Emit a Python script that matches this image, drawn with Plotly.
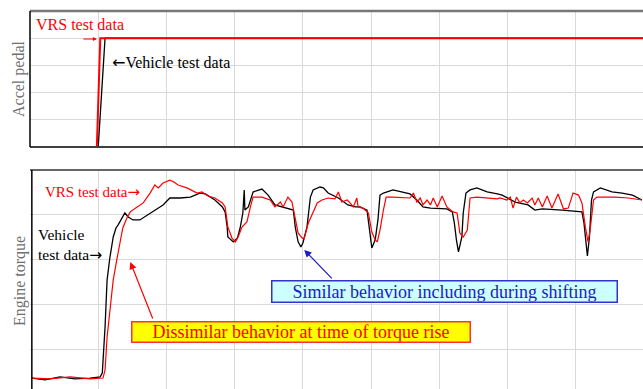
import plotly.graph_objects as go

# ---- data (time in s, accel pedal %, engine torque %) ----
pedal_vrs_t = [0.0, 0.98, 1.03, 9.0]
pedal_vrs_v = [0, 0, 80, 80]
pedal_veh_t = [0.0, 1.0, 1.1, 9.0]
pedal_veh_v = [0, 0, 80, 80]

veh_t = [0.03, 0.22, 0.44, 0.66, 0.88, 1.03, 1.06, 1.10, 1.13, 1.17, 1.22, 1.26, 1.29, 1.35, 1.39,
         1.44, 1.51, 1.61, 1.72, 1.83, 1.95, 2.05, 2.20, 2.35, 2.49, 2.57, 2.71, 2.82, 2.86, 2.89,
         2.90, 2.98, 3.04, 3.08, 3.12, 3.14, 3.15, 3.20, 3.27, 3.40, 3.49, 3.59, 3.74, 3.86, 3.89,
         3.93, 3.97, 4.00, 4.06, 4.11, 4.15, 4.25, 4.30, 4.37, 4.52, 4.66, 4.77, 4.84, 4.94, 4.96,
         4.99, 5.01, 5.06, 5.10, 5.13, 5.18, 5.32, 5.43, 5.57, 5.67, 5.76, 5.87, 6.11, 6.19, 6.22,
         6.25, 6.28, 6.33, 6.35, 6.39, 6.45, 6.55, 6.70, 6.85, 6.92, 7.11, 7.30, 7.40, 7.51, 7.80,
         8.09, 8.12, 8.15, 8.17, 8.20, 8.23, 8.26, 8.36, 8.53, 8.68, 8.83, 8.97]
veh_v = [7.1, 6.3, 7.6, 6.7, 7.1, 7.6, 9.4, 29.9, 50.9, 60.7, 70.1, 74.1, 75.4, 78.6, 80.8,
         79.0, 77.7, 77.7, 79.9, 82.1, 84.4, 87.5, 87.5, 87.9, 89.7, 89.3, 86.6, 83.5, 81.3, 74.6,
         70.1, 67.9, 69.6, 74.1, 80.8, 91.1, 82.1, 83.5, 90.2, 91.5, 88.8, 84.4, 83.0, 82.1, 74.1,
         67.9, 65.6, 67.4, 74.6, 87.9, 91.1, 92.4, 92.0, 89.7, 87.5, 84.4, 83.5, 83.5, 82.1, 77.7,
         68.8, 65.2, 68.8, 77.7, 88.8, 89.7, 91.1, 90.2, 89.3, 86.6, 83.5, 83.0, 82.6, 81.3, 76.3,
         68.8, 63.4, 70.1, 80.8, 89.7, 91.1, 92.0, 90.2, 89.3, 88.8, 85.7, 84.4, 82.1, 82.6, 82.1,
         81.3, 76.3, 67.4, 61.6, 70.1, 86.6, 90.2, 92.0, 90.2, 89.7, 88.8, 86.6]

vrs_t = [0.03, 0.29, 0.59, 0.88, 1.07, 1.10, 1.13, 1.17, 1.22, 1.28, 1.32, 1.36, 1.42, 1.47, 1.57,
         1.66, 1.76, 1.83, 1.88, 1.95, 2.05, 2.11, 2.17, 2.30, 2.45, 2.52, 2.61, 2.71, 2.82, 2.86,
         2.90, 2.96, 3.01, 3.05, 3.11, 3.18, 3.23, 3.27, 3.40, 3.52, 3.59, 3.67, 3.71, 3.78, 3.84,
         3.89, 3.93, 3.99, 4.02, 4.08, 4.15, 4.21, 4.28, 4.37, 4.47, 4.52, 4.57, 4.65, 4.69, 4.74,
         4.79, 4.81, 4.88, 4.96, 5.01, 5.06, 5.09, 5.13, 5.18, 5.22, 5.32, 5.57, 5.62, 5.67, 5.72,
         5.76, 5.82, 5.87, 5.91, 5.97, 6.04, 6.11, 6.20, 6.26, 6.30, 6.35, 6.41, 6.45, 6.55, 6.85,
         6.89, 6.99, 7.04, 7.08, 7.13, 7.18, 7.23, 7.29, 7.36, 7.40, 7.45, 7.51, 7.58, 7.65, 7.74,
         7.82, 7.89, 7.96, 8.04, 8.09, 8.14, 8.18, 8.21, 8.26, 8.31, 8.58, 8.77, 8.97]
vrs_v = [7.1, 6.7, 7.6, 6.7, 7.1, 10.7, 25.4, 37.5, 50.9, 61.2, 67.9, 74.1, 78.6, 81.3, 83.5,
         85.3, 89.7, 93.3, 92.0, 94.2, 95.5, 94.6, 93.3, 92.0, 89.7, 90.2, 88.4, 87.5, 85.3, 83.5,
         74.6, 69.6, 67.9, 70.1, 74.6, 76.8, 83.5, 87.9, 87.9, 86.6, 83.5, 85.7, 83.5, 87.9, 85.7,
         77.7, 71.9, 69.6, 69.6, 76.3, 80.8, 85.3, 86.6, 87.5, 87.1, 90.2, 85.7, 86.6, 85.3, 83.5,
         87.5, 83.5, 83.0, 80.8, 72.3, 68.8, 67.9, 73.2, 82.1, 87.9, 87.9, 87.5, 89.7, 85.7, 87.5,
         84.4, 86.6, 84.4, 87.5, 83.5, 88.4, 83.5, 81.3, 80.8, 71.9, 70.1, 73.2, 87.5, 87.9, 87.1,
         87.5, 86.6, 87.9, 83.0, 87.9, 85.3, 86.6, 85.3, 87.5, 84.4, 87.5, 83.5, 88.4, 83.0, 89.3,
         82.6, 83.0, 89.7, 88.8, 85.3, 74.6, 67.9, 73.2, 86.6, 87.9, 87.9, 87.5, 86.6]

SERIF = "Liberation Serif"
GRID = "#d9d9d9"
ARW = "<span style=\"font-family:'DejaVu Sans'\">{}</span>"

fig = go.Figure()
# top panel
fig.add_trace(go.Scatter(x=pedal_veh_t, y=pedal_veh_v, mode="lines", line=dict(color="black", width=1.3),
                         xaxis="x", yaxis="y", showlegend=False))
fig.add_trace(go.Scatter(x=pedal_vrs_t, y=pedal_vrs_v, mode="lines", line=dict(color="#ff0000", width=2),
                         xaxis="x", yaxis="y", showlegend=False))
# bottom panel
fig.add_trace(go.Scatter(x=veh_t, y=veh_v, mode="lines", line=dict(color="black", width=1.3),
                         xaxis="x2", yaxis="y2", showlegend=False))
fig.add_trace(go.Scatter(x=vrs_t, y=vrs_v, mode="lines", line=dict(color="#ff0000", width=1.2),
                         xaxis="x2", yaxis="y2", showlegend=False))

H = 389.0
ax_common = dict(range=[0, 8.985], dtick=1, tick0=0, showgrid=True, gridcolor=GRID, gridwidth=1,
                 zeroline=False, showticklabels=False, ticks="", showline=False, domain=[0, 1])
fig.update_layout(
    width=643, height=389,
    margin=dict(l=30, r=0, t=0, b=0),
    paper_bgcolor="white", plot_bgcolor="white",
    xaxis=dict(anchor="y", **ax_common),
    xaxis2=dict(anchor="y2", **ax_common),
    yaxis=dict(domain=[1 - 147 / H, 1 - 11 / H], range=[0, 100], dtick=20, showgrid=True, gridcolor=GRID,
               zeroline=False, showticklabels=False, ticks="", anchor="x"),
    yaxis2=dict(domain=[0, 1 - 170 / H], range=[2.2, 100], dtick=20, showgrid=True, gridcolor=GRID,
                zeroline=False, showticklabels=False, ticks="", anchor="x2"),
    font=dict(family=SERIF),
)

shapes = []
def seg(xref, yref, x0, y0, x1, y1, color, w):
    shapes.append(dict(type="line", xref=xref, yref=yref, x0=x0, y0=y0, x1=x1, y1=y1,
                       line=dict(color=color, width=w)))
seg("x domain", "y domain", 0, 1, 1, 1, "#777777", 2.5)
seg("x domain", "y domain", 0, 0, 1, 0, "#404040", 2)
seg("x domain", "y domain", 0, 0, 0, 1, "#000000", 1.5)
seg("x2 domain", "y2 domain", 0, 1, 1, 1, "#666666", 2)
seg("x2 domain", "y2 domain", 0.003, 0, 0.003, 1, "#000000", 1.5)
fig.update_layout(shapes=shapes)

ann = []
def txt(text, x, y, xref, yref, size, color, xanchor="left", **kw):
    d = dict(text=text, x=x, y=y, xref=xref, yref=yref, showarrow=False, xanchor=xanchor, yanchor="middle",
             font=dict(family=SERIF, size=size, color=color))
    d.update(kw)
    ann.append(d)

# axis titles
txt("Accel pedal", -0.0179, 1 - 79 / H, "paper", "paper", 16, "#707070", xanchor="center", textangle=-90)
txt("Engine torque", -0.0163, 1 - 281 / H, "paper", "paper", 16, "#707070", xanchor="center", textangle=-90)
# top panel labels
txt("VRS test data", 0.06, 90.4, "x", "y", 16, "#ff0000")
ann.append(dict(text="", x=0.98, y=79.4, xref="x", yref="y", showarrow=True, ax=-15, ay=0,
                arrowcolor="#ff0000", arrowwidth=1, arrowhead=2, arrowsize=0.8))
txt(ARW.format("←") + "Vehicle test data", 1.17, 61.8, "x", "y", 16, "#000000")
# bottom panel labels
txt("VRS test data" + ARW.format("→"), 0.19, 90.2, "x2", "y2", 15, "#ff0000")
txt("Vehicle<br>test data" + ARW.format("→"), 0.09, 66.3, "x2", "y2", 15.5, "#000000", align="left")
# boxed callouts
txt("Similar behavior including during shifting", 6.07, 45.8, "x2", "y2", 18, "#2020c0",
    xanchor="center", bgcolor="#ccffff", bordercolor="#3333cc", borderwidth=1.5, borderpad=0,
    width=344, height=20)
txt("Dissimilar behavior at time of torque rise", 3.97, 27.7, "x2", "y2", 18, "#ff0000",
    xanchor="center", bgcolor="#ffff00", bordercolor="#ff3333", borderwidth=1.5, borderpad=0,
    width=337, height=19)
# arrows
ann.append(dict(text="", x=4.02, y=64.3, xref="x2", yref="y2", showarrow=True, ax=29, ay=30,
                arrowcolor="#1a1acc", arrowwidth=1.2, arrowhead=2, arrowsize=1.2))
ann.append(dict(text="", x=1.47, y=58.9, xref="x2", yref="y2", showarrow=True, ax=23, ay=58,
                arrowcolor="#ff0000", arrowwidth=1.2, arrowhead=2, arrowsize=1.2))
fig.update_layout(annotations=ann)

fig.write_html("out.html", config={"displayModeBar": False},
               post_script="document.body.style.margin='0';document.body.style.overflow='hidden';")
